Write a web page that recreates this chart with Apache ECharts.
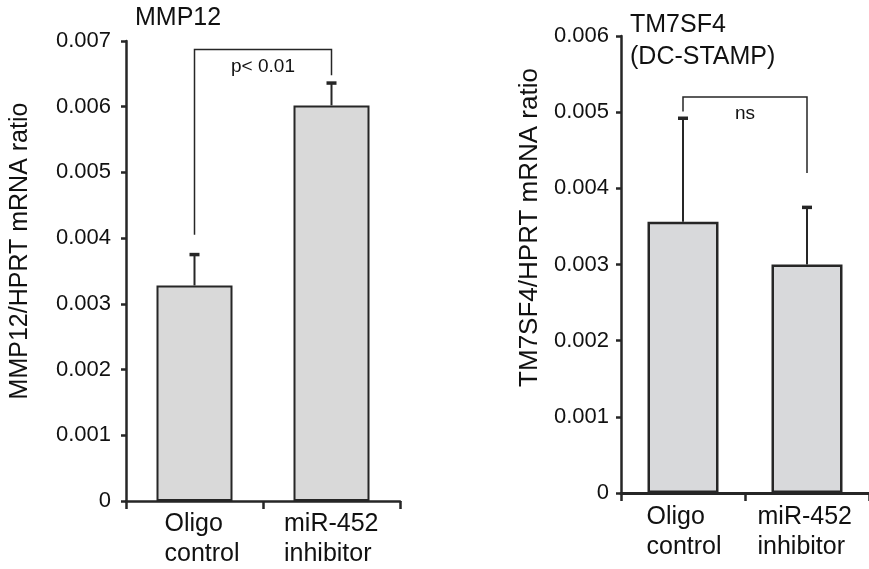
<!DOCTYPE html>
<html>
<head>
<meta charset="utf-8">
<script src="https://cdn.jsdelivr.net/npm/echarts@6/dist/echarts.min.js"></script>
<style>
html,body{margin:0;padding:0;background:#fff;}
#chart{width:869px;height:569px;}
</style>
</head>
<body>
<div id="chart"></div>
<script>
// ---- data ----
const categories = ['Oligo\ncontrol', 'miR-452\ninhibitor'];
const mmp12Mean = [0.00328, 0.00602];
const mmp12Upper = [0.00375, 0.00636];
const tm7Mean = [0.00356, 0.00300];
const tm7Upper = [0.00492, 0.00375];
const mmp12YTicks = ['0', '0.001', '0.002', '0.003', '0.004', '0.005', '0.006', '0.007'];
const tm7YTicks = ['0', '0.001', '0.002', '0.003', '0.004', '0.005', '0.006'];
// bracket: [leftCat, rightCat, topValue, leftLegEnd, rightLegEnd]
const mmp12Bracket = [0, 1, 0.00687, 0.00405, 0.00648];
const mmp12BracketLabel = 'p< 0.01';
const tm7Bracket = [0, 1, 0.00520, 0.00501, 0.00420];
const tm7BracketLabel = 'ns';

const FONT = "'Liberation Sans', Arial, Helvetica, sans-serif";
const INK = '#262626';
const TXT = '#111';

function errRender(params, api) {
  const x = api.value(0), m = api.value(1), u = api.value(2);
  const p0 = api.coord([x, m]), p1 = api.coord([x, u]);
  return {type: 'group', children: [
    {type: 'line', shape: {x1: p0[0], y1: p0[1], x2: p1[0], y2: p1[1]}, style: {stroke: INK, lineWidth: 2}},
    {type: 'line', shape: {x1: p1[0] - 5, y1: p1[1], x2: p1[0] + 5, y2: p1[1]}, style: {stroke: INK, lineWidth: 3.5}}
  ]};
}
function bracketRender(label) {
  return function (params, api) {
    const a = api.coord([api.value(0), api.value(2)]);
    const b = api.coord([api.value(1), api.value(2)]);
    const l = api.coord([api.value(0), api.value(3)]);
    const r = api.coord([api.value(1), api.value(4)]);
    return {type: 'group', children: [
      {type: 'polyline', shape: {points: [[l[0], l[1]], [a[0], a[1]], [b[0], b[1]], [r[0], r[1]]]},
        style: {stroke: INK, lineWidth: 1.5, fill: null}},
      {type: 'text', x: (a[0] + b[0]) / 2, y: a[1] + 17,
        style: {text: label, fill: TXT, font: '19px ' + FONT, align: 'center', verticalAlign: 'middle'}}
    ]};
  };
}

function xLabelFmt(v, i) {
  return v.split('\n').map(s => '{c' + i + '|' + s + '}').join('\n');
}
function richLabel(w) {
  return {width: w, align: 'left', fontFamily: FONT, fontSize: 25, lineHeight: 30, color: TXT};
}

const chart = echarts.init(document.getElementById('chart'));
const axisLine = {show: true, lineStyle: {color: INK, width: 2.5}};

chart.setOption({
  backgroundColor: '#fff',
  animation: false,
  title: [
    {text: 'MMP12', left: 135, top: 6, padding: 0,
      textStyle: {fontFamily: FONT, fontSize: 25, fontWeight: 'normal', color: TXT}},
    {text: 'TM7SF4\n(DC-STAMP)', left: 630, top: 9, padding: 0,
      textStyle: {fontFamily: FONT, fontSize: 25, fontWeight: 'normal', color: TXT, lineHeight: 32}}
  ],
  grid: [
    {left: 126, top: 41, width: 274, height: 461},
    {left: 621, top: 36, width: 254, height: 457}
  ],
  xAxis: [0, 1].map(g => ({
    type: 'category', gridIndex: g, data: categories,
    axisLine: {show: true, lineStyle: {color: INK, width: g === 1 ? 3 : 2.5}},
    axisTick: {show: true, length: 8, interval: 0, lineStyle: {color: INK, width: 2.5}},
    axisLabel: {
      interval: 0, margin: g === 0 ? 8 : 9, formatter: xLabelFmt, color: TXT,
      fontFamily: FONT, fontSize: 25, lineHeight: 30,
      rich: g === 0 ? {c0: richLabel(60), c1: richLabel(95)} : {c0: richLabel(73), c1: richLabel(99)}
    },
    splitLine: {show: false}
  })),
  yAxis: [
    {type: 'value', gridIndex: 0, min: 0, max: 0.007, interval: 0.001,
      name: 'MMP12/HPRT mRNA ratio', nameLocation: 'middle', nameGap: 93,
      nameTextStyle: {fontFamily: FONT, fontSize: 25, color: TXT, padding: [0, 0, 0, 40]},
      axisLine: axisLine, axisTick: {show: true, length: 5, lineStyle: {color: INK, width: 2.5}},
      axisLabel: {margin: 15, fontFamily: FONT, fontSize: 22, color: TXT,
        formatter: v => mmp12YTicks[Math.round(v / 0.001)]},
      splitLine: {show: false}},
    {type: 'value', gridIndex: 1, min: 0, max: 0.006, interval: 0.001,
      name: 'TM7SF4/HPRT mRNA ratio', nameLocation: 'middle', nameGap: 78,
      nameTextStyle: {fontFamily: FONT, fontSize: 26, color: TXT, padding: [0, 0, 0, 74]},
      axisLine: axisLine, axisTick: {show: true, length: 5, lineStyle: {color: INK, width: 2.5}},
      axisLabel: {margin: 12, fontFamily: FONT, fontSize: 22, color: TXT,
        formatter: v => tm7YTicks[Math.round(v / 0.001)]},
      splitLine: {show: false}}
  ],
  series: [
    {type: 'bar', xAxisIndex: 0, yAxisIndex: 0, data: mmp12Mean, barWidth: 76,
      itemStyle: {color: '#d9d9d9', borderColor: INK, borderWidth: 2}},
    {type: 'custom', xAxisIndex: 0, yAxisIndex: 0, renderItem: errRender,
      encode: {x: 0, y: [1, 2]},
      data: categories.map((c, i) => [i, mmp12Mean[i], mmp12Upper[i]])},
    {type: 'custom', xAxisIndex: 0, yAxisIndex: 0, renderItem: bracketRender(mmp12BracketLabel),
      encode: {x: [0, 1], y: [2, 3, 4]}, data: [mmp12Bracket]},
    {type: 'bar', xAxisIndex: 1, yAxisIndex: 1, data: tm7Mean, barWidth: 71,
      itemStyle: {color: '#d8d9db', borderColor: INK, borderWidth: 2.5}},
    {type: 'custom', xAxisIndex: 1, yAxisIndex: 1, renderItem: errRender,
      encode: {x: 0, y: [1, 2]},
      data: categories.map((c, i) => [i, tm7Mean[i], tm7Upper[i]])},
    {type: 'custom', xAxisIndex: 1, yAxisIndex: 1, renderItem: bracketRender(tm7BracketLabel),
      encode: {x: [0, 1], y: [2, 3, 4]}, data: [tm7Bracket]}
  ]
});
</script>
</body>
</html>
